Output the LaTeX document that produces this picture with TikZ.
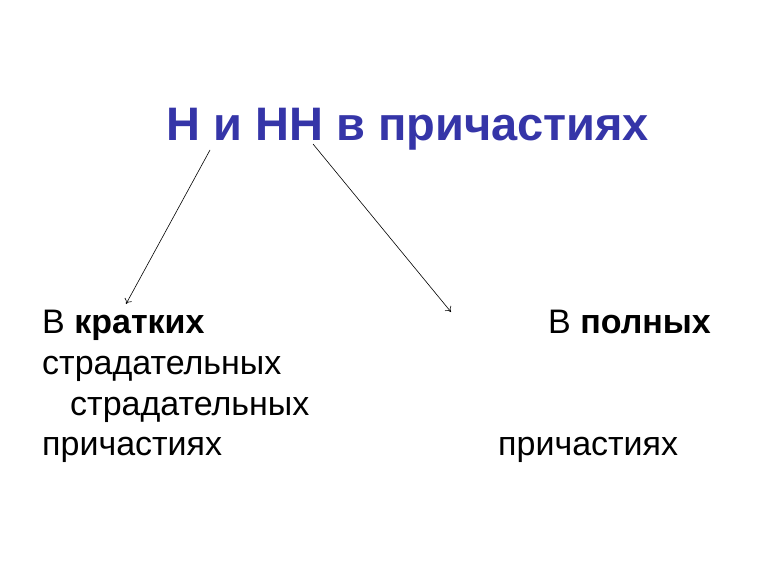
\documentclass[tikz,border=0pt]{standalone}
\usepackage{fontspec}
\setmainfont{Liberation Sans}
\usetikzlibrary{arrows.meta}
\definecolor{titleblue}{HTML}{3535A8}
\begin{document}
\begin{tikzpicture}[x=1pt,y=-1pt,
  txt/.style={anchor=base west,inner sep=0pt,font=\fontsize{34}{34}\selectfont},
  ttl/.style={anchor=base west,inner sep=0pt,font=\fontsize{47}{47}\selectfont\bfseries,text=titleblue},
  conn/.style={line width=0.6pt,-{To[length=5pt,width=8pt]}}]
\useasboundingbox (0,0) rectangle (770,577);
\node[ttl] (title) at (166,141) {Н и НН в причастиях};
\node[txt] (l1) at (42,333) {В \textbf{кратких}};
\node[txt] (l2) at (42,374) {страдательных};
\node[txt] (l3) at (70,415) {страдательных};
\node[txt] (l4) at (42,455) {причастиях};
\node[txt] (r1) at (548,333) {В \textbf{полных}};
\node[txt] (r4) at (498,455) {причастиях};
\coordinate (s1) at (210,150);
\coordinate (e1) at (126,304);
\coordinate (s2) at (313,144);
\coordinate (e2) at (451,312);
\draw[conn] (s1) -- (e1);
\draw[conn] (s2) -- (e2);
\end{tikzpicture}
\end{document}
